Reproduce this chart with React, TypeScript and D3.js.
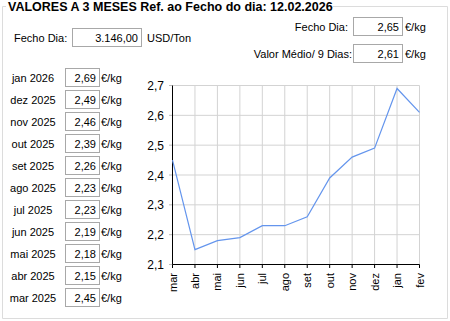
import React from "react";
import * as d3 from "d3";

const title = "VALORES A 3 MESES Ref. ao Fecho do dia: 12.02.2026";
const monthRows = ["jan 2026", "dez 2025", "nov 2025", "out 2025", "set 2025", "ago 2025", "jul 2025", "jun 2025", "mai 2025", "abr 2025", "mar 2025"];
const monthRowValues = ["2,69", "2,49", "2,46", "2,39", "2,26", "2,23", "2,23", "2,19", "2,18", "2,15", "2,45"];
const categories = ["mar", "abr", "mai", "jun", "jul", "ago", "set", "out", "nov", "dez", "jan", "fev"];
const seriesValues = [2.45, 2.15, 2.18, 2.19, 2.23, 2.23, 2.26, 2.39, 2.46, 2.49, 2.69, 2.61];
const yTicks = [2.1, 2.2, 2.3, 2.4, 2.5, 2.6, 2.7];
const fechoUsd = "3.146,00";
const fechoEur = "2,65";
const mediaEur = "2,61";

const FONT = "'Liberation Sans', Arial, sans-serif";

function Box({ x, y, w, h, value }: { x: number; y: number; w: number; h: number; value: string }) {
  return (
    <g>
      <rect x={x + 0.5} y={y + 0.5} width={w - 1} height={h - 1} fill="#fff" stroke="#a8a8a8" strokeWidth={1} />
      <text x={x + w - 4} y={y + 13.5} textAnchor="end" fontSize={11} fontFamily={FONT} fill="#000">{value}</text>
    </g>
  );
}

export default function App() {
  const W = 450, H = 321;
  const x = d3.scalePoint<string>().domain(categories).range([172.5, 419.5]);
  const y = d3.scaleLinear().domain([2.1, 2.7]).range([264.5, 85.5]);
  const line = d3.line<number>().x((_, i) => x(categories[i])!).y(d => y(d));

  return (
    <svg width={W} height={H} style={{ position: "absolute", left: 0, top: 0, background: "#fff" }}>
      <rect x={0} y={0} width={W} height={H} fill="#fff" />
      {/* group box */}
      <path d="M6,6.5 H2.5 V318.5 H447.5 V6.5 H333" fill="none" stroke="#dcdcdc" strokeWidth={1} />
      <text x={8} y={11} fontSize={12.5} fontWeight="bold" fontFamily={FONT} fill="#000">{title}</text>

      {/* header */}
      <text x={14} y={41.7} fontSize={11} fontFamily={FONT}>Fecho Dia:</text>
      <Box x={72} y={28} w={70} h={19} value={fechoUsd} />
      <text x={147} y={41.7} fontSize={11} fontFamily={FONT}>USD/Ton</text>

      <text x={348} y={31} textAnchor="end" fontSize={11} fontFamily={FONT}>Fecho Dia:</text>
      <Box x={353} y={17} w={50} h={19} value={fechoEur} />
      <text x={405} y={31} fontSize={11} fontFamily={FONT}>€/kg</text>

      <text x={352} y={57.5} textAnchor="end" fontSize={11} fontFamily={FONT}>Valor Médio/ 9 Dias:</text>
      <Box x={353} y={44} w={50} h={19} value={mediaEur} />
      <text x={405} y={57.5} fontSize={11} fontFamily={FONT}>€/kg</text>

      {/* monthly table */}
      {monthRows.map((m, i) => {
        const top = 68 + i * 22;
        return (
          <g key={m}>
            <text x={33} y={top + 13.5} textAnchor="middle" fontSize={11} fontFamily={FONT}>{m}</text>
            <Box x={65} y={top} w={35} h={19} value={monthRowValues[i]} />
            <text x={101} y={top + 13.5} fontSize={11} fontFamily={FONT}>€/kg</text>
          </g>
        );
      })}

      {/* chart grid */}
      {yTicks.map(t => (
        <g key={t}>
          <line x1={172.5} x2={419.5} y1={y(t)} y2={y(t)} stroke="#d3d3d3" />
          <line x1={169} x2={172.5} y1={y(t)} y2={y(t)} stroke="#bbb" />
          <text x={164} y={y(t) + 4.5} textAnchor="end" fontSize={12} fontFamily={FONT}>{String(t.toFixed(1)).replace(".", ",")}</text>
        </g>
      ))}
      {categories.map(c => (
        <g key={c}>
          <line x1={x(c)} x2={x(c)} y1={85.5} y2={264.5} stroke="#d3d3d3" />
          <line x1={x(c)} x2={x(c)} y1={264.5} y2={268} stroke="#000" />
          <text transform={`translate(${x(c)! + 4},273) rotate(-90)`} textAnchor="end" fontSize={11} fontFamily={FONT}>{c}</text>
        </g>
      ))}
      <line x1={172.5} x2={172.5} y1={85.5} y2={264.5} stroke="#000" />
      <line x1={172.5} x2={419.5} y1={264.5} y2={264.5} stroke="#000" />
      <path d={line(seriesValues) ?? ""} fill="none" stroke="#6495ED" strokeWidth={1.2} />
    </svg>
  );
}
